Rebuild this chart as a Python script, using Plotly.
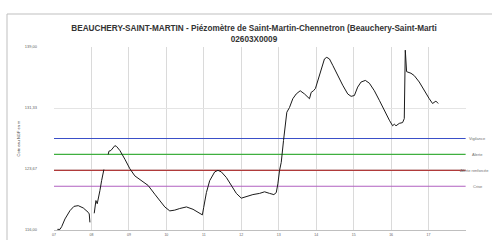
import plotly.graph_objects as go

# Piezometric level (m NGF) vs decimal year; None = gap in record
years = [
    2007.09, 2007.16, 2007.205, 2007.293, 2007.426, 2007.533, 2007.647, 2007.781, 2007.914, 2007.941, 2007.959,
    None,
    2008.074, 2008.119, 2008.154, 2008.180, 2008.226, 2008.271, 2008.332,
    None,
    2008.447, 2008.466, 2008.519, 2008.553, 2008.580, 2008.625, 2008.671, 2008.759, 2008.892, 2009.025,
    2009.158, 2009.337, 2009.513, 2009.691, 2009.870, 2009.958, 2010.091, 2010.224, 2010.357, 2010.536,
    2010.712, 2010.845, 2010.962, 2010.997, 2011.069, 2011.157, 2011.290, 2011.378, 2011.468, 2011.602,
    2011.735, 2011.868, 2012.001, 2012.135, 2012.310, 2012.489, 2012.622, 2012.755, 2012.870, 2012.934,
    2012.977, 2013.022, 2013.067, 2013.128, 2013.182, 2013.216, 2013.288, 2013.376, 2013.467, 2013.573,
    2013.688, 2013.821, 2013.867, 2013.928, 2013.981, 2014.042, 2014.133, 2014.221, 2014.282, 2014.354,
    2014.442, 2014.575, 2014.708, 2014.842, 2014.932, 2015.020, 2015.108, 2015.199, 2015.313, 2015.420,
    2015.553, 2015.686, 2015.820, 2015.953, 2016.041, 2016.086, 2016.132, 2016.219, 2016.307, 2016.352,
    2016.379, 2016.398, 2016.414, 2016.531, 2016.619, 2016.752, 2016.885, 2017.019, 2017.107, 2017.152,
    2017.197, 2017.258,
]
levels = [
    116.08, 116.08, 116.42, 117.39, 118.43, 118.97, 119.06, 118.77, 118.22, 118.02, 116.96,
    None,
    118.10, 119.70, 119.30, 120.10, 120.95, 122.20, 123.60,
    None,
    125.49, 125.90, 125.99, 126.20, 126.40, 126.60, 126.50, 125.99, 124.90, 123.70,
    122.80, 122.20, 121.60, 120.50, 119.50, 118.90, 118.40, 118.50, 118.70, 118.90,
    118.60, 118.20, 117.90, 118.85, 120.70, 122.20, 123.30, 123.50, 123.30, 122.60,
    121.60, 120.60, 120.00, 120.20, 120.45, 120.60, 120.80, 120.60, 120.45, 120.70,
    121.80, 123.50, 124.50, 127.25, 129.80, 130.80, 131.40, 132.50, 133.10, 133.50,
    133.10, 132.50, 133.30, 133.50, 133.80, 134.80, 136.10, 137.50, 137.70, 137.50,
    136.70, 135.40, 134.20, 133.10, 132.80, 132.90, 133.96, 134.60, 134.80, 134.45,
    133.50, 132.30, 131.00, 129.80, 129.10, 129.30, 129.10, 129.40, 129.50, 130.00,
    138.60, 137.30, 135.90, 135.70, 135.40, 134.60, 133.50, 132.50, 131.90, 132.10,
    132.20, 131.90,
]

threshold_names = ["Vigilance", "Alerte", "Alerte renforcée", "Crise"]
threshold_values = [127.5, 125.5, 123.5, 121.5]
threshold_colors = ["#3A4FC8", "#3FAF3F", "#B03A3A", "#B060C0"]

x_start, x_end = 2007, 2018
tick_years = list(range(2007, 2018))
tick_labels = ["07", "08", "09", "10", "11", "12", "13", "14", "15", "16", "17"]
y_ticks = [116.0, 116 + 23 / 3, 116 + 46 / 3, 139.0]
y_tick_labels = ["116,00", "123,67", "131,33", "139,00"]

fig = go.Figure()

for name, val, col in zip(threshold_names, threshold_values, threshold_colors):
    fig.add_trace(go.Scatter(x=[x_start, x_end - 0.01], y=[val, val], mode="lines",
                             line=dict(color=col, width=1.2), showlegend=False, hoverinfo="skip"))
    if name == "Alerte renforcée":
        fig.add_annotation(x=(491 - 54) / 412, xref="paper", y=val, yref="y", text=name, showarrow=False,
                           xanchor="right", yanchor="middle",
                           font=dict(size=4, color="#707070", family="Liberation Sans"))
    else:
        fig.add_annotation(x=1.029, xref="paper", y=val, yref="y", text=name, showarrow=False,
                           xanchor="center", yanchor="middle",
                           font=dict(size=4, color="#707070", family="Liberation Sans"))

fig.add_trace(go.Scatter(x=years, y=levels, mode="lines", connectgaps=False,
                         line=dict(color="#1a1a1a", width=1), showlegend=False))

fig.update_layout(
    width=492, height=240,
    margin=dict(l=54, r=26, t=47, b=10, autoexpand=False),
    paper_bgcolor="white", plot_bgcolor="white",
    font=dict(family="Liberation Sans", color="#404040"),
    title=dict(
        text="BEAUCHERY-SAINT-MARTIN - Piézomètre de Saint-Martin-Chennetron (Beauchery-Saint-Marti<br>02603X0009",
        x=254 / 492, xref="container", xanchor="center",
        y=1 - 31 / 240, yref="container", yanchor="top",
        font=dict(size=8.2, family="Liberation Sans", color="#333333", weight="bold"),
    ),
    xaxis=dict(range=[x_start, x_end], tickvals=tick_years, ticktext=tick_labels,
               automargin=False,
               showgrid=True, gridcolor="#DADADA", gridwidth=1,
               showline=True, linecolor="#BFBFBF", linewidth=1, zeroline=False,
               ticks="", tickfont=dict(size=3.5, color="#606060"), ticklabelstandoff=1),
    yaxis=dict(range=[116, 139], tickvals=y_ticks, ticktext=y_tick_labels,
               automargin=False,
               showgrid=True, gridcolor="#E4E4E4", gridwidth=1,
               showline=False, zeroline=False, ticks="",
               tickfont=dict(size=4, color="#606060"), ticklabelstandoff=16,
               title=dict(text="Cote eau NGF en m", font=dict(size=4, color="#404040"), standoff=4)),
    shapes=[dict(type="rect", xref="paper", yref="paper",
                 x0=(7 - 54) / 412, x1=1.2, y0=-0.3, y1=(230 - 14) / 183,
                 line=dict(color="#BFBFBF", width=1), fillcolor="rgba(0,0,0,0)", layer="below")],
)

fig.write_html("out.html", config={"displayModeBar": False},
               post_script="document.body.style.margin='0';document.body.style.padding='0';")
